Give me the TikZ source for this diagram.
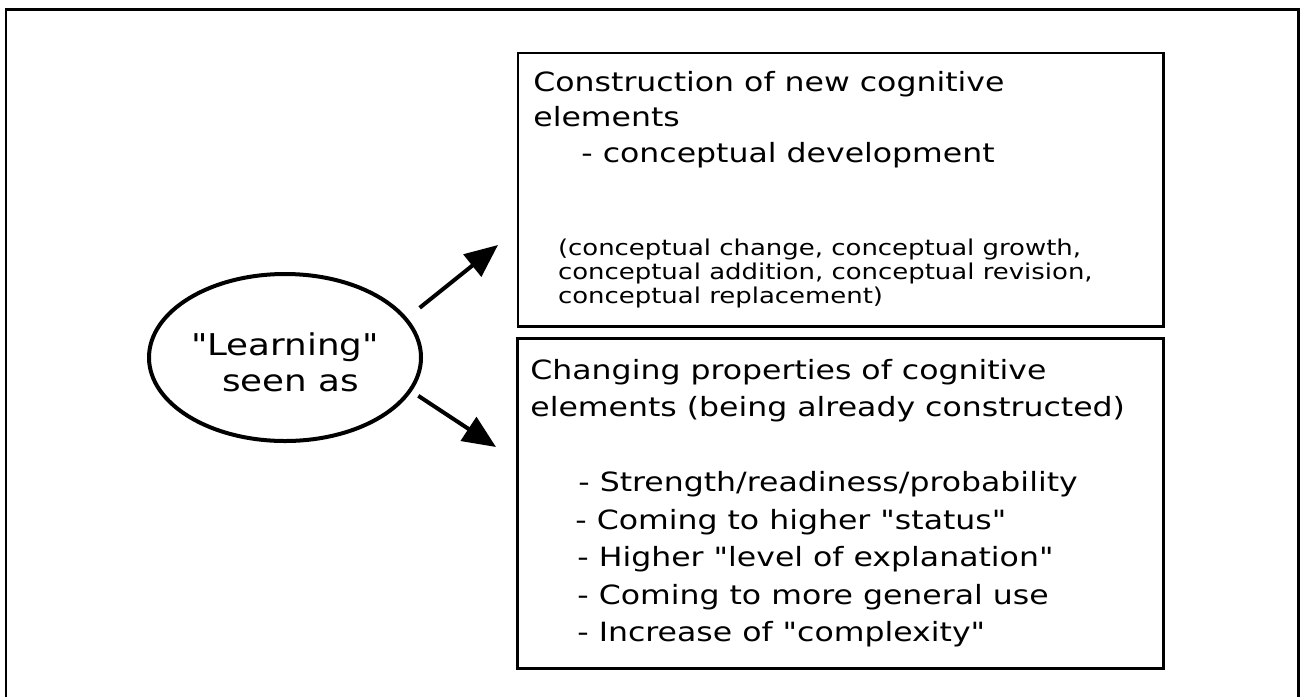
\documentclass[tikz,border=0pt]{standalone}
\usepackage{fontspec}
\newfontfamily\boxfont[FakeStretch=1.19]{DejaVu Sans}
\usetikzlibrary{arrows.meta,positioning,shapes.geometric}

\begin{document}
\begin{tikzpicture}
    [x=1pt,y=-1pt,
     box/.style={rectangle,draw=black,line width=2.6pt,outer sep=0pt,inner sep=0pt,anchor=north west},
     txt/.style={inner sep=0pt,outer sep=0pt,anchor=north west,align=left},
     arr/.style={-{Triangle[length=33pt,width=28pt]},line width=4pt}]
    \boxfont
    \useasboundingbox (0,0) rectangle (1300,697);
    % outer frame, open at the bottom
    \draw[line width=2.7pt] (6,697) -- (6,9.3) -- (1298.8,9.3) -- (1298.8,697);

    \node[ellipse,draw=black,line width=4pt,minimum width=272pt,minimum height=167pt,inner sep=0pt,align=center,font=\fontsize{30}{36}\selectfont] (learn) at (285,357.5) {\rule{0pt}{33pt}"Learning"\\\hspace*{11pt}seen as};

    \node[box,minimum width=645.5pt,minimum height=273.7pt] (constr) at (518,53) {};
    \node[box,minimum width=645.5pt,minimum height=330.4pt] (change) at (517.7,338.3) {};

    \node[txt,font=\fontsize{26.5}{35.5}\selectfont,below right=17pt and 15.4pt of constr.north west] (constrtxt)
        {\rule{0pt}{21pt}Construction of new cognitive\\elements\\\hspace*{48pt}- conceptual development};
    \node[txt,font=\fontsize{21.8}{24}\selectfont,below right=184pt and 40pt of constr.north west] (kinds)
        {\rule{0pt}{18pt}(conceptual change, conceptual growth,\\conceptual addition, conceptual revision,\\conceptual replacement)};
    \node[txt,font=\fontsize{26.5}{37.5}\selectfont,below right=19.7pt and 12.7pt of change.north west] (changetxt)
        {\rule{0pt}{21pt}Changing properties of cognitive\\elements (being already constructed)\\[37.5pt]
         \hspace*{48pt}- Strength/readiness/probability\\
         \hspace*{45pt}- Coming to higher "status"\\
         \hspace*{47pt}- Higher "level of explanation"\\
         \hspace*{47pt}- Coming to more general use\\
         \hspace*{47pt}- Increase of "complexity"};

    \coordinate (tipA) at (498,245);
    \coordinate (tipB) at (496,447);
    \draw[arr,shorten <=16pt] (learn.18) -- (tipA);
    \draw[arr,shorten <=8pt] (learn.-15) -- (tipB);
\end{tikzpicture}
\end{document}
